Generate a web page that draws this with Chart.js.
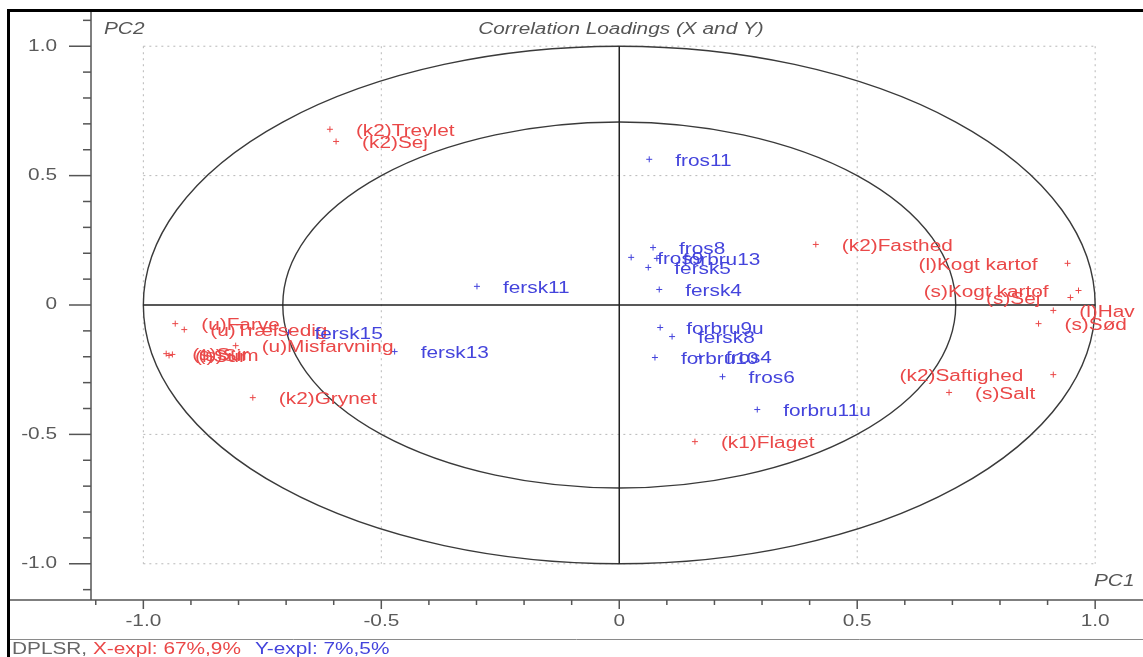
<!DOCTYPE html>
<html>
<head>
<meta charset="utf-8">
<script src="https://cdn.jsdelivr.net/npm/chart.js@4.4.1/dist/chart.umd.min.js"></script>
<style>
  html, body { margin: 0; padding: 0; background: #fff; }
  canvas { display: block; }
</style>
</head>
<body>
<canvas id="loadingsChart" width="1143" height="657"></canvas>
<script>
// X-loadings (sensory / process variables), red
const xNames = ['(k2)Trevlet', '(k2)Sej', '(k2)Fasthed', '(l)Kogt kartof', '(s)Kogt kartof', '(s)Sej',
  '(l)Hav', '(s)Sød', '(k2)Saftighed', '(s)Salt', '(k1)Flaget', '(k2)Grynet', '(u)Misfarvning',
  '(u)Farve', '(u)Trælsedig', '(s)Sur', '(l)Sur', '(s)Sim'];
const xPC1 = [-0.608, -0.595, 0.413, 0.942, 0.965, 0.948, 0.912, 0.881, 0.912, 0.693, 0.159, -0.770, -0.806,
  -0.933, -0.914, -0.952, -0.946, -0.939];
const xPC2 = [0.679, 0.632, 0.234, 0.161, 0.056, 0.029, -0.021, -0.072, -0.269, -0.338, -0.528, -0.358, -0.157,
  -0.072, -0.095, -0.188, -0.195, -0.191];

// Y-loadings (samples), blue
const yNames = ['fros11', 'fros8', 'fros9', 'forbru13', 'fersk5', 'fersk4', 'fersk11', 'fersk15', 'fersk13',
  'forbru9u', 'fersk8', 'forbru10', 'fros4', 'fros6', 'forbru11u'];
const yPC1 = [0.063, 0.071, 0.025, 0.079, 0.061, 0.084, -0.299, -0.695, -0.472, 0.086, 0.111, 0.075, 0.169, 0.217, 0.290];
const yPC2 = [0.563, 0.222, 0.184, 0.180, 0.145, 0.060, 0.072, -0.106, -0.180, -0.087, -0.122, -0.203, -0.199, -0.277, -0.404];

const tickValues = [-1.0, -0.5, 0, 0.5, 1.0];
const tickLabels = ['-1.0', '-0.5', '0', '0.5', '1.0'];
const circleRadii = [1.0, 0.707];
const footerTexts = ['DPLSR, ', 'X-expl: 67%,9%', 'Y-expl: 7%,5%'];

const RED = '#ea4848';
const BLUE = '#4444dc';
const FONT = '16px "Liberation Sans", Arial, sans-serif';
const IFONT = 'italic 16px "Liberation Sans", Arial, sans-serif';
const SX = 1.3; // the original text is wide

function toPoints(xs, ys) {
  return xs.map((v, i) => ({ x: v, y: ys[i] }));
}

function wideText(ctx, str, x, y, align) {
  ctx.save();
  ctx.translate(x, y);
  ctx.scale(SX, 1);
  ctx.textAlign = align || 'left';
  ctx.fillText(str, 0, 0);
  ctx.restore();
}
function wideWidth(ctx, str) {
  return ctx.measureText(str).width * SX;
}

const decor = {
  id: 'decor',
  beforeDraw(chart) {
    const ctx = chart.ctx;
    const xs = chart.scales.x, ys = chart.scales.y;
    const area = chart.chartArea;
    const W = chart.width, H = chart.height;
    ctx.save();
    ctx.fillStyle = '#fff';
    ctx.fillRect(0, 0, W, H);

    // dotted grid inside the unit square
    ctx.strokeStyle = '#b8b8b8';
    ctx.lineWidth = 1;
    ctx.setLineDash([2, 4]);
    [-1, -0.5, 0.5, 1].forEach(v => {
      ctx.beginPath();
      ctx.moveTo(xs.getPixelForValue(-1), ys.getPixelForValue(v));
      ctx.lineTo(xs.getPixelForValue(1), ys.getPixelForValue(v));
      ctx.stroke();
      ctx.beginPath();
      ctx.moveTo(xs.getPixelForValue(v), ys.getPixelForValue(1));
      ctx.lineTo(xs.getPixelForValue(v), ys.getPixelForValue(-1));
      ctx.stroke();
    });
    ctx.setLineDash([]);

    // correlation circles
    const cx = xs.getPixelForValue(0), cy = ys.getPixelForValue(0);
    ctx.strokeStyle = '#3a3a3a';
    ctx.lineWidth = 1.4;
    circleRadii.forEach(r => {
      const rx = xs.getPixelForValue(r) - cx;
      const ry = cy - ys.getPixelForValue(r);
      ctx.beginPath();
      ctx.ellipse(cx, cy, rx, ry, 0, 0, Math.PI * 2);
      ctx.stroke();
    });
    // cross through origin
    ctx.strokeStyle = '#222';
    ctx.lineWidth = 1.5;
    ctx.beginPath();
    ctx.moveTo(xs.getPixelForValue(-1), cy);
    ctx.lineTo(xs.getPixelForValue(1), cy);
    ctx.moveTo(cx, ys.getPixelForValue(1));
    ctx.lineTo(cx, ys.getPixelForValue(-1));
    ctx.stroke();

    // frame
    ctx.fillStyle = '#000';
    ctx.fillRect(7, 9, 3, H - 9);
    ctx.fillRect(7, 9, W - 7, 3);

    // axes lines
    ctx.strokeStyle = '#555';
    ctx.lineWidth = 1.5;
    ctx.beginPath();
    ctx.moveTo(10, area.bottom);
    ctx.lineTo(W, area.bottom);
    ctx.moveTo(area.left, 12);
    ctx.lineTo(area.left, area.bottom);
    ctx.stroke();
    ctx.strokeStyle = '#8a8a8a';
    ctx.lineWidth = 1;
    ctx.beginPath();
    ctx.moveTo(10, 639.5);
    ctx.lineTo(W, 639.5);
    ctx.stroke();

    // tick marks every 0.1, longer on labelled values
    ctx.strokeStyle = '#555';
    ctx.lineWidth = 1.5;
    for (let k = -11; k <= 11; k++) {
      const v = k / 10;
      const major = k % 5 === 0;
      const py = ys.getPixelForValue(v);
      if (py > area.top + 2 && py < area.bottom - 2) {
        ctx.beginPath();
        ctx.moveTo(area.left - (major ? 22 : 8), py);
        ctx.lineTo(area.left, py);
        ctx.stroke();
      }
      const px = xs.getPixelForValue(v);
      if (px > area.left + 2 && px < W - 2) {
        ctx.beginPath();
        ctx.moveTo(px, area.bottom);
        ctx.lineTo(px, area.bottom + (major ? 9 : 5));
        ctx.stroke();
      }
    }

    // tick labels
    ctx.font = FONT;
    ctx.fillStyle = '#5a5a5a';
    ctx.textBaseline = 'middle';
    tickValues.forEach((v, i) => {
      wideText(ctx, tickLabels[i], 57, ys.getPixelForValue(v), 'right');
      wideText(ctx, tickLabels[i], xs.getPixelForValue(v), 622, 'center');
    });

    // axis names and title
    ctx.font = IFONT;
    ctx.fillStyle = '#555';
    wideText(ctx, 'PC2', 104, 30, 'left');
    wideText(ctx, 'PC1', 1094, 582, 'left');
    wideText(ctx, 'Correlation Loadings (X and Y)', 621, 30, 'center');

    // footer
    ctx.font = FONT;
    const footerColors = ['#666', RED, BLUE];
    let fx = 12;
    footerTexts.forEach((t, i) => {
      ctx.fillStyle = footerColors[i];
      wideText(ctx, t, fx, 650, 'left');
      fx += wideWidth(ctx, t) + (i === 1 ? 14 : 0);
    });
    ctx.restore();
  },
  afterDatasetsDraw(chart) {
    const ctx = chart.ctx;
    const area = chart.chartArea;
    ctx.save();
    ctx.beginPath();
    ctx.rect(area.left, area.top, area.right - area.left, area.bottom - area.top);
    ctx.clip();
    ctx.font = FONT;
    ctx.textBaseline = 'middle';
    chart.data.datasets.forEach((ds, di) => {
      const meta = chart.getDatasetMeta(di);
      ctx.fillStyle = ds.labelColor;
      meta.data.forEach((pt, i) => {
        const name = ds.names[i];
        const w = wideWidth(ctx, name);
        let lx = pt.x + 26;
        if (lx + w > area.right) lx = pt.x - 30 - w;
        wideText(ctx, name, lx, pt.y + 2, 'left');
      });
    });
    ctx.restore();
  }
};

new Chart(document.getElementById('loadingsChart'), {
  type: 'scatter',
  data: {
    datasets: [
      {
        label: 'X',
        data: toPoints(xPC1, xPC2),
        names: xNames,
        labelColor: RED,
        borderColor: RED,
        backgroundColor: RED,
        pointStyle: 'cross',
        pointRadius: 3,
        borderWidth: 1
      },
      {
        label: 'Y',
        data: toPoints(yPC1, yPC2),
        names: yNames,
        labelColor: BLUE,
        borderColor: BLUE,
        backgroundColor: BLUE,
        pointStyle: 'cross',
        pointRadius: 3,
        borderWidth: 1
      }
    ]
  },
  options: {
    responsive: false,
    animation: false,
    devicePixelRatio: 1,
    layout: { padding: { left: 91, top: 10, right: 0, bottom: 57 } },
    plugins: { legend: { display: false }, tooltip: { enabled: false } },
    scales: {
      x: { type: 'linear', min: -1.11, max: 1.09, display: false },
      y: { type: 'linear', min: -1.14, max: 1.14, display: false }
    }
  },
  plugins: [decor]
});
</script>
</body>
</html>
